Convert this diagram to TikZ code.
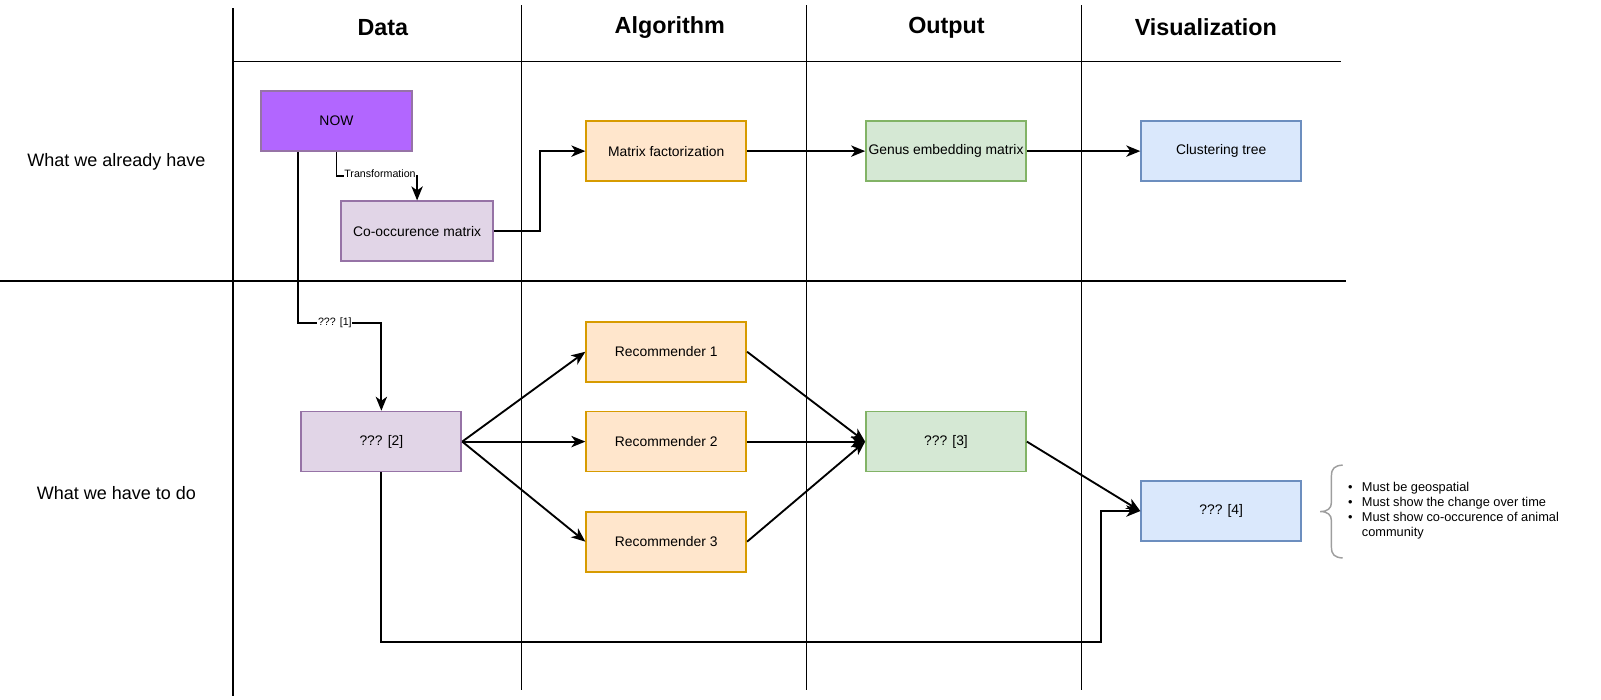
\documentclass[tikz,border=0pt]{standalone}
\usepackage{fontspec}
\setmainfont{Liberation Sans}
\usetikzlibrary{arrows.meta,calc}

\definecolor{nowfill}{HTML}{B266FF}
\definecolor{purplefill}{HTML}{E1D5E7}
\definecolor{purpleline}{HTML}{9673A6}
\definecolor{orangefill}{HTML}{FFE6CC}
\definecolor{orangeline}{HTML}{D79B00}
\definecolor{greenfill}{HTML}{D5E8D4}
\definecolor{greenline}{HTML}{82B366}
\definecolor{bluefill}{HTML}{DAE8FC}
\definecolor{blueline}{HTML}{6C8EBF}
\definecolor{bracegray}{HTML}{9E9E9E}

\begin{document}
\begin{tikzpicture}[x=0.7658pt, y=-0.7658pt,
        grid/.style={line width=1.1pt},
        head/.style={font=\fontsize{17.5}{20}\selectfont\bfseries},
        rowlbl/.style={font=\fontsize{13.5}{16}\selectfont},
        box/.style={draw, line width=1.3pt, inner sep=0pt, minimum width=120pt,
            minimum height=45pt, font=\fontsize{10.4}{12}\selectfont},
        nowbox/.style={box, fill=nowfill, draw=purpleline, minimum width=113pt},
        purplebox/.style={box, fill=purplefill, draw=purpleline},
        orangebox/.style={box, fill=orangefill, draw=orangeline},
        greenbox/.style={box, fill=greenfill, draw=greenline},
        bluebox/.style={box, fill=bluefill, draw=blueline},
        flow/.style={line width=1.4pt, -{Stealth[length=10.5pt,width=8.5pt,inset=3pt]}},
        lbl/.style={fill=white, inner sep=0.6pt, font=\fontsize{8}{9}\selectfont}]
        \useasboundingbox (0,0) rectangle (1568,684.6);

        % 1. lanes
        \draw[grid] (228,8) -- (228,682);
        \foreach \x in {511,790,1059}
            \draw[grid] (\x,5) -- (\x,676);
        \draw[grid] (228,60) -- (1313,60);
        \draw[grid] (0,275) -- (1318,275);

        % 2. column heads
        \node[head] (hdata) at (375,27) {Data};
        \node[head] (halgo) at (656,27) {Algorithm};
        \node[head] (hout) at (927,27) {Output};
        \node[head] (hvis) at (1181,27) {Visualization};

        % 3. row heads
        \node[rowlbl] (rowhave) at (114,159) {What we already have};
        \node[rowlbl] (rowdo) at (114,483) {What we have to do};

        % 4. what we already have
        \node[nowbox] (now) at (329.5,118.5) {NOW};
        \node[purplebox, minimum width=114pt] (cooc) at (408.5,226.5) {Co-occurence matrix};
        \node[orangebox] (matfac) at (652.5,148) {Matrix factorization};
        \node[greenbox] (genus) at (926.5,148) {Genus embedding matrix};
        \node[bluebox] (cltree) at (1196,148) {Clustering tree};

        \draw[flow] (now.south) -- ++(0,24) -| node[lbl, pos=0.27, yshift=2pt] {Transformation} (cooc.north);
        \draw[flow] (cooc.east) -| ($(cooc.east)!0.5!(matfac.west)$) |- (matfac.west);
        \draw[flow] (matfac) -- (genus);
        \draw[flow] (genus) -- (cltree);

        % 5. what we have to do
        \node[purplebox] (q2) at (373.5,432.5) {??? [2]};
        \node[orangebox] (rec1) at (652.5,344.5) {Recommender 1};
        \node[orangebox] (rec2) at (652.5,432.5) {Recommender 2};
        \node[orangebox] (rec3) at (652.5,530.5) {Recommender 3};
        \node[greenbox] (q3) at (926.5,432.5) {??? [3]};
        \node[bluebox] (q4) at (1196,500.5) {??? [4]};

        \coordinate (nowleg) at ($(now.south west)!0.25!(now.south east)$);
        \coordinate (bend1) at (0,316);
        \coordinate (bend2) at (1078,629);
        \draw[flow] (nowleg) |- node[lbl, pos=0.72] {??? [1]} (bend1 -| q2.north) -- (q2.north);
        \foreach \r in {rec1,rec2,rec3} {
            \draw[flow] (q2.east) -- (\r.west);
            \draw[flow] (\r.east) -- (q3.west);
        }
        \draw[flow] (q3.east) -- (q4.west);
        \draw[flow] (q2.south) |- (bend2) |- (q4.west);

        % 6. notes on ??? [4]
        \draw[bracegray, line width=1.1pt]
            (1315,455.5) .. controls (1307,456) and (1304,459) .. (1304,466)
            -- (1304,492) .. controls (1304,498) and (1300,501) .. (1293,501)
            .. controls (1300,501) and (1304,504) .. (1304,510)
            -- (1304,536) .. controls (1304,543) and (1307,546) .. (1315,546.5);
        \node[anchor=west, inner sep=0pt, font=\fontsize{9.6}{11.4}\selectfont] (notes) at (1320,500.5)
            {\begin{tabular}{@{}c@{\hspace{7pt}}l@{}}
                \textbullet & Must be geospatial\\
                \textbullet & Must show the change over time\\
                \textbullet & Must show co-occurence of animal\\
                            & community
            \end{tabular}};
\end{tikzpicture}
\end{document}
